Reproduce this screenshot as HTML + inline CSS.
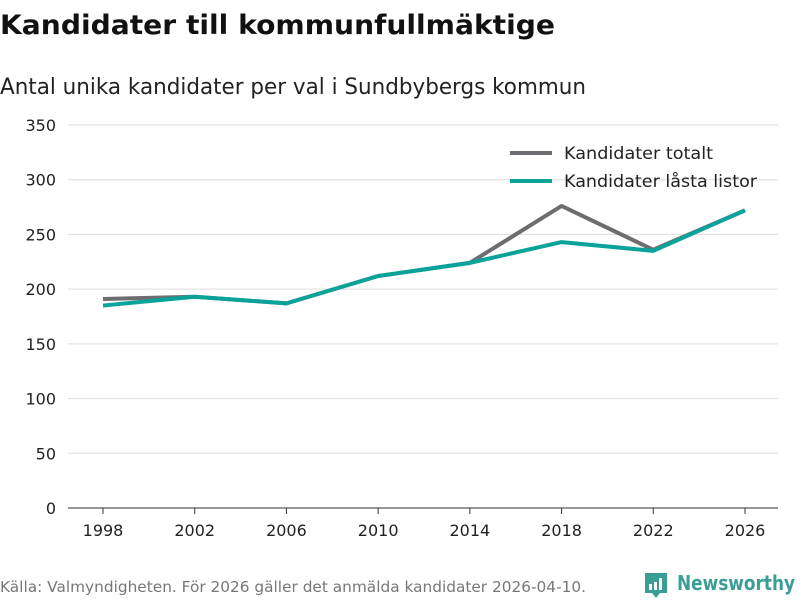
<!DOCTYPE html>
<html><head><meta charset="utf-8"><style>
body{margin:0;width:800px;height:600px;background:#fff;font-family:"DejaVu Sans","Liberation Sans",sans-serif;overflow:hidden}
</style></head><body>
<svg width="800" height="600" xmlns="http://www.w3.org/2000/svg">
<text x="0" y="34" font-size="27" font-weight="bold" fill="#111" textLength="555" lengthAdjust="spacingAndGlyphs">Kandidater till kommunfullmäktige</text>
<text x="0" y="94" font-size="22" fill="#222" textLength="586" lengthAdjust="spacingAndGlyphs">Antal unika kandidater per val i Sundbybergs kommun</text>
<g id="grid"></g>
<g id="axes"></g>
<g id="series"></g>
<g>
<line x1="510" y1="153" x2="552" y2="153" stroke="#6d6c70" stroke-width="4"/>
<text x="564" y="159" font-size="17" fill="#222" textLength="149" lengthAdjust="spacingAndGlyphs">Kandidater totalt</text>
<line x1="510" y1="181" x2="552" y2="181" stroke="#0aa39a" stroke-width="4"/>
<text x="564" y="187" font-size="17" fill="#222" textLength="193" lengthAdjust="spacingAndGlyphs">Kandidater låsta listor</text>
</g>
<text x="0" y="592" font-size="15" fill="#777" textLength="586" lengthAdjust="spacingAndGlyphs">Källa: Valmyndigheten. För 2026 gäller det anmälda kandidater 2026-04-10.</text>
<g>
<path d="M645 573 h22 v20 h-7 l-4 5 l-4 -5 h-7 z" fill="#3a9e94"/>
<rect x="649" y="584" width="3" height="6" fill="#fff"/><rect x="654" y="582" width="3" height="8" fill="#fff"/><rect x="659" y="578" width="3" height="12" fill="#fff"/>
<text x="677" y="590" font-size="20" font-weight="bold" fill="#3a9e94" textLength="118" lengthAdjust="spacingAndGlyphs">Newsworthy</text>
</g>
</svg>
<script>
const years=[1998,2002,2006,2010,2014,2018,2022,2026];
const totalt=[191,193,187,212,224,276,236,272];
const lasta=[185,193,187,212,224,243,235,272];
const yTicks=[0,50,100,150,200,250,300,350];
const NS="http://www.w3.org/2000/svg";
const x=v=>103+(v-1998)*(642/28);
const y=v=>508-v*(383/350);
const grid=document.getElementById('grid'),axes=document.getElementById('axes'),series=document.getElementById('series');
function mk(tag,attrs,parent){const e=document.createElementNS(NS,tag);for(const k in attrs)e.setAttribute(k,attrs[k]);parent.appendChild(e);return e;}
yTicks.forEach(t=>{
 const l=mk('line',{x1:68,x2:778,y1:y(t),y2:y(t),stroke:t===0?'#333':'#ddd','stroke-width':1},grid);
 
 
 const tx=mk('text',{x:56,y:y(t)+6,'text-anchor':'end','font-size':16,fill:'#222'},axes);
 tx.textContent=t;
 
 
});
years.forEach(yr=>{
 const tk=mk('line',{x1:x(yr),x2:x(yr),y1:508,y2:514,stroke:'#333'},axes);
 
 
 const tx=mk('text',{x:x(yr),y:536,'text-anchor':'middle','font-size':16,fill:'#222'},axes);
 tx.textContent=yr;
 
 
});
function line(vals,color,name){
 const p=mk('polyline',{points:vals.map((v,i)=>x(years[i])+','+y(v)).join(' '),fill:'none',stroke:color,'stroke-width':4,'stroke-linejoin':'round'},series);
 
 
}
line(totalt,'#6d6c70','line-totalt');
line(lasta,'#0aa39a','line-lasta-listor');
</script>
</body></html>
